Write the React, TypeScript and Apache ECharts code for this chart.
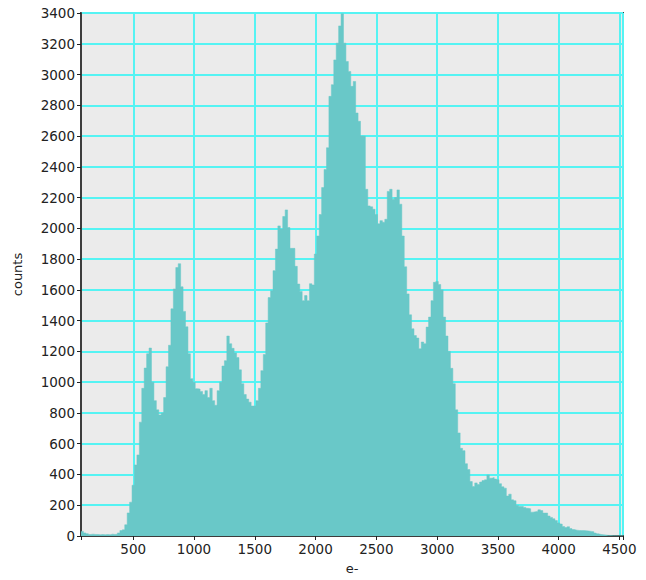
import React, { useEffect, useRef } from 'react';
import * as echarts from 'echarts';

const X_MIN = 70;
const X_MAX = 4530;
const BIN_START = 70;
const BIN_WIDTH = 20;
const Y_MAX = 3400;
const Y_STEP = 200;

// counts per 20 e- bin, starting at 70 e-
const counts = [
  30, 20, 15, 10, 12, 10, 10, 8, 10, 8,
  10, 8, 12, 10, 12, 20, 35, 40, 73, 150,
  220, 330, 462, 527, 740, 960, 1092, 1185, 1222, 1000,
  880, 820, 786, 800, 900, 1100, 1240, 1477, 1606, 1745,
  1770, 1620, 1460, 1360, 1185, 1023, 1000, 958, 955, 940,
  920, 945, 900, 960, 880, 850, 945, 1000, 1105, 1140,
  1300, 1250, 1220, 1190, 1160, 1080, 990, 920, 890, 870,
  845, 845, 880, 960, 1075, 1180, 1385, 1550, 1595, 1725,
  1865, 2016, 1995, 2077, 2120, 2005, 1870, 1870, 1753, 1638,
  1590, 1530, 1563, 1530, 1640, 1632, 1833, 1950, 2090, 2265,
  2383, 2524, 2858, 2934, 3095, 3204, 3316, 3395, 3204, 3085,
  3020, 2923, 2955, 2750, 2696, 2600, 2599, 2254, 2146, 2140,
  2124, 2090, 2030, 2050, 2040, 2059, 2240, 2254, 2189, 2200,
  2250, 2157, 1950, 1750, 1574, 1438, 1347, 1303, 1287, 1217,
  1261, 1250, 1358, 1423, 1530, 1649, 1655, 1635, 1600, 1423,
  1300, 1200, 1090, 990, 820, 670, 570, 555, 470, 432,
  354, 322, 345, 335, 351, 360, 365, 397, 376, 380,
  370, 365, 340, 320, 311, 260, 272, 235, 229, 199,
  192, 192, 186, 180, 177, 155, 158, 160, 170, 165,
  149, 149, 130, 121, 112, 100, 85, 78, 62, 55,
  60, 48, 42, 38, 36, 35, 35, 34, 32, 30,
  28, 19, 14, 10, 8, 6, 4, 3, 2, 2,
  1, 1, 1,
];

const AXIS_COLOR = '#3c3c3c';
const GRID_COLOR = '#55f3f3';
const BAR_COLOR = '#69c8c8';
const FONT = 'DejaVu Sans';

export default function App() {
  const ref = useRef<HTMLDivElement>(null);
  useEffect(() => {
    if (!ref.current) return;
    const chart = echarts.init(ref.current, null, { renderer: 'svg' });
    // step outline: each bin's count held from its start edge to the next edge
    const stepData: number[][] = counts.map((c, i) => [BIN_START + i * BIN_WIDTH, c]);
    stepData.push([BIN_START + counts.length * BIN_WIDTH, counts[counts.length - 1]]);
    chart.setOption({
      animation: false,
      backgroundColor: '#ffffff',
      grid: {
        left: 81,
        right: 23,
        top: 13,
        bottom: 42,
        show: true,
        backgroundColor: '#ebebeb',
        borderColor: AXIS_COLOR,
        borderWidth: 2,
      },
      xAxis: {
        type: 'value',
        min: X_MIN,
        max: X_MAX,
        splitNumber: 9,
        name: 'e-',
        nameLocation: 'middle',
        nameGap: 26,
        nameTextStyle: { fontFamily: FONT, fontSize: 13, color: '#222' },
        axisLine: { show: true, onZero: false, lineStyle: { color: AXIS_COLOR, width: 2 } },
        axisTick: { show: true, length: 4, lineStyle: { color: '#222', width: 1 } },
        axisLabel: {
          margin: 6,
          fontFamily: FONT,
          fontSize: 13.5,
          color: '#222',
          formatter: (v: number) => (v % 500 === 0 ? String(v) : ''),
        },
        splitLine: { show: true, lineStyle: { color: GRID_COLOR, width: 2 } },
      },
      yAxis: {
        type: 'value',
        min: 0,
        max: Y_MAX,
        interval: Y_STEP,
        name: 'counts',
        nameLocation: 'middle',
        nameGap: 57,
        nameTextStyle: { fontFamily: FONT, fontSize: 13, color: '#222' },
        axisLine: { show: true, lineStyle: { color: AXIS_COLOR, width: 2 } },
        axisTick: { show: true, length: 4, lineStyle: { color: '#222', width: 1 } },
        axisLabel: {
          margin: 6,
          fontFamily: FONT,
          fontSize: 13.5,
          color: '#222',
          formatter: (v: number) => String(v),
        },
        splitLine: { show: true, lineStyle: { color: GRID_COLOR, width: 2 } },
      },
      series: [
        {
          type: 'line',
          step: 'end',
          data: stepData,
          showSymbol: false,
          symbol: 'none',
          clip: true,
          lineStyle: { color: BAR_COLOR, width: 0.5 },
          itemStyle: { color: BAR_COLOR },
          areaStyle: { color: BAR_COLOR, opacity: 1, origin: 'start' },
          z: 3,
        },
      ],
    });
    return () => chart.dispose();
  }, []);
  return (
    <div
      ref={ref}
      style={{ position: 'absolute', left: 0, top: 0, width: 646, height: 580 }}
    />
  );
}
